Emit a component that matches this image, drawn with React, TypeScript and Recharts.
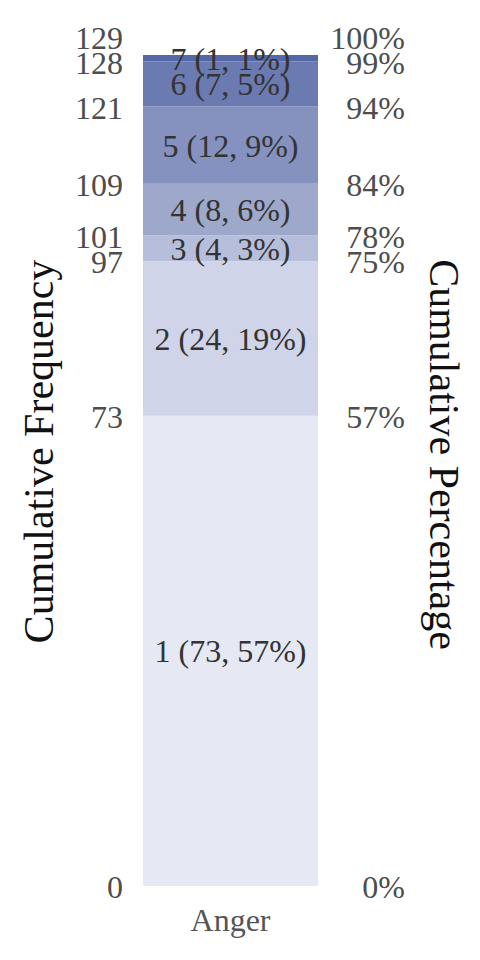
import React from 'react';
import { ComposedChart, Bar, Line, XAxis, YAxis, LabelList, Label } from 'recharts';

const categories = ['Anger'];
const segmentNames = ['1', '2', '3', '4', '5', '6', '7'];
const segmentCounts = [73, 24, 4, 8, 12, 7, 1];
const segmentPercents = [57, 19, 3, 6, 9, 5, 1];
const segmentColors = ['#e6e9f3', '#cfd4e8', '#b6bedb', '#9da8cb', '#8591bf', '#6b7ab0', '#5467a6'];
const cumulativeTicks = [0, 73, 97, 101, 109, 121, 128, 129];
const percentTickLabels = ['0%', '57%', '75%', '78%', '84%', '94%', '99%', '100%'];

const data = categories.map((c) => {
  const row: Record<string, string | number> = { category: c };
  segmentCounts.forEach((v, i) => {
    row['s' + i] = v;
  });
  return row;
});

const FONT = '"Liberation Serif", "Times New Roman", serif';
const TICK_SIZE = 32;
const TICK_COLOR = '#4d4d4d';

const LeftTick = (props: any) => {
  const { x, y, payload, index } = props;
  const shift = index === cumulativeTicks.length - 1 ? -17 : 1;
  return (
    <text x={x} y={y} dy={TICK_SIZE * 0.35 + shift} textAnchor="end" fontFamily={FONT} fontSize={TICK_SIZE} fill={TICK_COLOR}>
      {payload.value}
    </text>
  );
};

const RightTick = (props: any) => {
  const { x, y, payload, index } = props;
  const i = cumulativeTicks.indexOf(payload.value);
  const shift = i === cumulativeTicks.length - 1 ? -17 : 1;
  return (
    <text x={x} y={y} dy={TICK_SIZE * 0.35 + shift} textAnchor="end" fontFamily={FONT} fontSize={TICK_SIZE} fill={TICK_COLOR}>
      {percentTickLabels[i >= 0 ? i : index]}
    </text>
  );
};

const LeftTitle = (props: any) => {
  const vb = props.viewBox || {};
  const cx = (vb.x ?? 0) + 38;
  const cy = (vb.y ?? 0) + vb.height / 2 - 19;
  return (
    <text x={cx} y={cy} dy="0.35em" transform={`rotate(-90, ${cx}, ${cy})`} textAnchor="middle" fontFamily={FONT} fontSize={42} fill="#111">
      Cumulative Frequency
    </text>
  );
};

const RightTitle = (props: any) => {
  const vb = props.viewBox || {};
  const cx = (vb.x ?? 0) + 127;
  const cy = (vb.y ?? 0) + vb.height / 2 - 16;
  return (
    <text x={cx} y={cy} dy="0.35em" transform={`rotate(90, ${cx}, ${cy})`} textAnchor="middle" fontFamily={FONT} fontSize={42} fill="#111">
      Cumulative Percentage
    </text>
  );
};

export default function App() {
  return (
    <div>
      <style>{'body{margin:0;}'}</style>
      <ComposedChart
        width={480}
        height={960}
        data={data}
        margin={{ top: 55, right: 0, bottom: 0, left: 0 }}
        barCategoryGap={0}
      >
        <XAxis
          dataKey="category"
          height={74}
          axisLine={false}
          tickLine={false}
          tickSize={0}
          tickMargin={22}
          tick={{ fontFamily: FONT, fontSize: TICK_SIZE, fill: '#555' }}
        />
        <YAxis
          yAxisId="left"
          orientation="left"
          width={143}
          domain={[0, 129]}
          ticks={cumulativeTicks}
          interval={0}
          axisLine={false}
          tickLine={false}
          tickSize={0}
          tickMargin={20}
          tick={<LeftTick />}
        >
          <Label content={<LeftTitle />} />
        </YAxis>
        <YAxis
          yAxisId="right"
          orientation="right"
          width={162}
          domain={[0, 129]}
          ticks={cumulativeTicks}
          interval={0}
          axisLine={false}
          tickLine={false}
          tickSize={0}
          tickMargin={87}
          tick={<RightTick />}
          allowDataOverflow
        >
          <Label content={<RightTitle />} />
        </YAxis>
        {segmentCounts.map((_, i) => (
          <Bar
            key={i}
            yAxisId="left"
            dataKey={'s' + i}
            stackId="a"
            fill={segmentColors[i]}
            isAnimationActive={false}
          >
            <LabelList
              dataKey={'s' + i}
              position="center"
              formatter={(v: any) => `${segmentNames[i]} (${v}, ${segmentPercents[i]}%)`}
              fontFamily={FONT}
              fontSize={TICK_SIZE}
              fill="#333"
            />
          </Bar>
        ))}
        <Line
          yAxisId="right"
          dataKey="none"
          stroke="none"
          strokeOpacity={0}
          dot={false}
          activeDot={false}
          legendType="none"
          isAnimationActive={false}
        />
      </ComposedChart>
    </div>
  );
}
